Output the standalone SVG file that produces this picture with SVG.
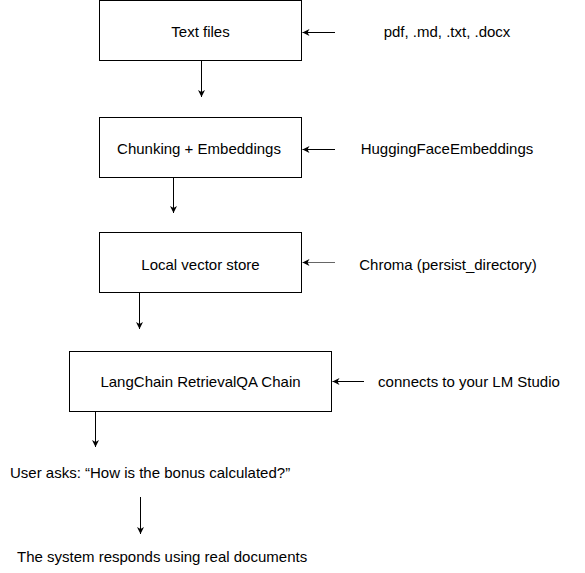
<svg xmlns="http://www.w3.org/2000/svg" width="585" height="573" viewBox="0 0 585 573">
<defs>
<marker id="ah" markerWidth="8" markerHeight="8" refX="7" refY="4" orient="auto" markerUnits="userSpaceOnUse">
<path d="M0,0.5 L7,4 L0,7.5 L2,4 Z" fill="#000"/>
</marker>
</defs>
<style>
.box{fill:#fff;stroke:#000;stroke-width:1}
.t{font-family:"Liberation Sans",Arial,sans-serif;font-size:15px;fill:#000}
.c{stroke:#000;stroke-width:1;fill:none;marker-end:url(#ah)}
</style>
<rect width="585" height="573" fill="#fff"/>
<g id="n1"><rect class="box" x="99.5" y="0.5" width="202" height="60"/><text class="t" x="200.5" y="37" text-anchor="middle">Text files</text></g>
<g id="n2"><rect class="box" x="99.5" y="117.5" width="202" height="60"/><text class="t" x="199" y="154" text-anchor="middle">Chunking + Embeddings</text></g>
<g id="n3"><rect class="box" x="99.5" y="232.5" width="202" height="60"/><text class="t" x="200.5" y="270" text-anchor="middle">Local vector store</text></g>
<g id="n4"><rect class="box" x="69.5" y="351.5" width="262" height="60"/><text class="t" x="200.5" y="387" text-anchor="middle">LangChain RetrievalQA Chain</text></g>
<g id="l1"><text class="t" x="447" y="37" text-anchor="middle">pdf, .md, .txt, .docx</text></g>
<g id="l2"><text class="t" x="447" y="154" text-anchor="middle">HuggingFaceEmbeddings</text></g>
<g id="l3"><text class="t" x="448" y="270" text-anchor="middle">Chroma (persist_directory)</text></g>
<g id="l4"><text class="t" x="469" y="387" text-anchor="middle">connects to your LM Studio</text></g>
<g id="u1"><text class="t" x="10" y="478">User asks: “How is the bonus calculated?”</text></g>
<g id="u2"><text class="t" x="17" y="562">The system responds using real documents</text></g>
<g id="connectors">
<path class="c" d="M201.5,61 V97"/>
<path class="c" d="M173.5,178 V213"/>
<path class="c" d="M139.5,293 V329"/>
<path class="c" d="M95.5,412 V447"/>
<path class="c" d="M140.5,497 V534"/>
<path class="c" d="M335,32.5 H302.5"/>
<path class="c" d="M335,149.5 H302.5"/>
<path class="c" style="stroke:#666" d="M335,262.5 H302.5"/>
<path class="c" d="M364,381.5 H332.5"/>
</g>
</svg>
